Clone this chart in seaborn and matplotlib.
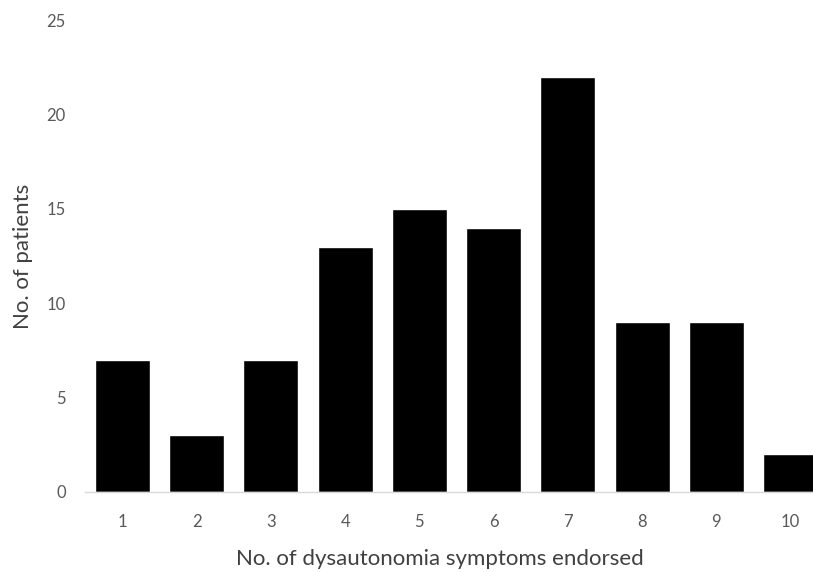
import matplotlib
matplotlib.use("Agg")
import matplotlib.pyplot as plt
import seaborn as sns
import pandas as pd

# ------------------------------------------------------------
# Data
# ------------------------------------------------------------
symptoms = ['1', '2', '3', '4', '5', '6', '7', '8', '9', '10']
patients = [7, 3, 7, 13, 15, 14, 22, 9, 9, 2]

df = pd.DataFrame({'symptoms': symptoms, 'patients': patients})

sns.set_style("white")
plt.rcParams['font.family'] = ['Lato', 'DejaVu Sans']

fig = plt.figure(figsize=(8.13, 5.72), dpi=100)
ax = fig.add_axes([0.105, 0.14, 0.913, 0.825])

sns.barplot(data=df, x='symptoms', y='patients', color='black',
            saturation=1, width=0.74, ax=ax)

ax.set_xlim(-0.5, 9.5)
ax.set_ylim(0, 25)
ax.set_yticks([0, 5, 10, 15, 20, 25])

for side in ['top', 'right', 'left']:
    ax.spines[side].set_visible(False)
ax.spines['bottom'].set_color('#d9d9d9')
ax.spines['bottom'].set_linewidth(1)

ax.tick_params(axis='x', length=0, pad=16, labelsize=12, labelcolor='#595959')
ax.tick_params(axis='y', length=0, pad=14, labelsize=12, labelcolor='#595959')

ax.set_xlabel('No. of dysautonomia symptoms endorsed', fontsize=16,
              color='#404040')
ax.xaxis.set_label_coords(0.477, -0.122)
ax.set_ylabel('No. of patients', fontsize=16, color='#404040', labelpad=10)

fig.savefig('out.png', dpi=100)
plt.close(fig)
